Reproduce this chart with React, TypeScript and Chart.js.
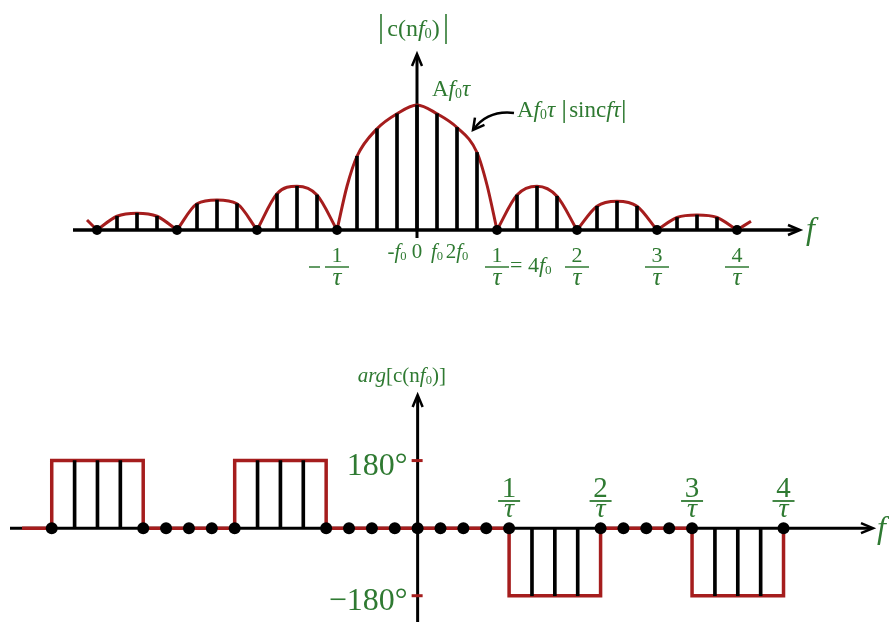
import React, { useEffect, useRef } from 'react';
import { Chart, registerables } from 'chart.js';

Chart.register(...registerables);

// ---------------- DATA ----------------
// harmonic index n (frequency = n * f0), with 1/tau = 4 f0
const harmonicIndex = [-16, -15, -14, -13, -12, -11, -10, -9, -8, -7, -6, -5, -4, -3, -2, -1, 0, 1, 2, 3, 4, 5, 6, 7, 8, 9, 10, 11, 12, 13, 14, 15, 16];
// |c(n f0)| normalised to A f0 tau = 1
const magnitude = [0, 0.11, 0.135, 0.11, 0, 0.21, 0.24, 0.21, 0, 0.29, 0.35, 0.28, 0, 0.59, 0.81, 0.93, 1.0, 0.93, 0.82, 0.62, 0, 0.28, 0.35, 0.27, 0, 0.19, 0.23, 0.19, 0, 0.1, 0.12, 0.1, 0];
// extra envelope readings between harmonics (main lobe flanks) and the tails
const envelopeExtraFreq = [-16.5, -3.5, 3.5, 16.7];
const envelopeExtraMag = [0.08, 0.35, 0.36, 0.07];
// arg[c(n f0)] in degrees
const phaseDeg = [0, 180, 180, 180, 0, 0, 0, 0, 0, 180, 180, 180, 0, 0, 0, 0, 0, 0, 0, 0, 0, -180, -180, -180, 0, 0, 0, 0, 0, -180, -180, -180, 0];
// continuous phase of the envelope: breakpoints and level after each breakpoint
const phaseEdgeFreq = [-17.3, -16, -12, -8, -4, 4, 8, 12, 16];
const phaseEdgeDeg = [0, 180, 0, 180, 0, -180, 0, -180, 0];
// tick labels
const topFracAt = [-4, 4, 8, 12, 16];
const topFracNum = ['1', '1', '2', '3', '4'];
const harmonicLabelAt = [-1, 0, 1, 2];
const harmonicLabels = ['-f0', '0', 'f0', '2f0'];
const bottomFracAt = [4, 8, 12, 16];
const bottomFracNum = ['1', '2', '3', '4'];
const phaseTickDeg = [180, -180];
const phaseTickLabels = ['180°', '−180°'];

// ---------------- STYLE ----------------
const GREEN = '#2f7a32';
const RED = '#a51d1d';
const FONT = '"Liberation Serif", "Times New Roman", serif';
const BOTTOM_TOP = 320;

type Run = { t: string; it?: boolean; sub?: boolean };

function rich(str: string): Run[] {
  const runs: Run[] = [];
  let prev = '';
  for (const ch of str) {
    const it = ch === 'f' || ch === 'τ';
    const sub = ch === '0' && prev === 'f';
    const last = runs[runs.length - 1];
    if (last && !!last.it === it && !!last.sub === sub) last.t += ch;
    else runs.push({ t: ch, it, sub });
    prev = ch;
  }
  return runs;
}

function fontFor(size: number, it?: boolean) {
  return `${it ? 'italic ' : ''}${size}px ${FONT}`;
}

function drawRuns(ctx: CanvasRenderingContext2D, runs: Run[], x: number, y: number, size: number, align: 'left' | 'center' | 'right', color: string) {
  const sizes = runs.map((r) => (r.sub ? size * 0.6 : size));
  const widths = runs.map((r, i) => {
    ctx.font = fontFor(sizes[i], r.it);
    return ctx.measureText(r.t).width;
  });
  const total = widths.reduce((a, b) => a + b, 0);
  let cx = align === 'left' ? x : align === 'center' ? x - total / 2 : x - total;
  ctx.save();
  ctx.textAlign = 'left';
  ctx.textBaseline = 'alphabetic';
  ctx.fillStyle = color;
  runs.forEach((r, i) => {
    ctx.font = fontFor(sizes[i], r.it);
    ctx.fillText(r.t, cx, y + (r.sub ? size * 0.1 : 0));
    cx += widths[i];
  });
  ctx.restore();
  return total;
}

function line(ctx: CanvasRenderingContext2D, x1: number, y1: number, x2: number, y2: number) {
  ctx.beginPath();
  ctx.moveTo(x1, y1);
  ctx.lineTo(x2, y2);
  ctx.stroke();
}

function arrowHead(ctx: CanvasRenderingContext2D, tx: number, ty: number, dx: number, dy: number, len = 12, half = 5) {
  const px = -dy, py = dx;
  ctx.beginPath();
  ctx.moveTo(tx - dx * len + px * half, ty - dy * len + py * half);
  ctx.lineTo(tx, ty);
  ctx.lineTo(tx - dx * len - px * half, ty - dy * len - py * half);
  ctx.stroke();
}

function drawFrac(ctx: CanvasRenderingContext2D, cx: number, barY: number, num: string, numSize: number, denSize: number, barW: number, numGap: number, denGap: number, lw: number) {
  ctx.save();
  ctx.strokeStyle = GREEN;
  ctx.lineWidth = lw;
  line(ctx, cx - barW / 2, barY, cx + barW / 2, barY);
  ctx.restore();
  drawRuns(ctx, [{ t: num }], cx, barY - numGap, numSize, 'center', GREEN);
  drawRuns(ctx, [{ t: 'τ', it: true }], cx, barY + denGap, denSize, 'center', GREEN);
}

// ---------------- SERIES BUILDERS ----------------
function envelopeSeries() {
  const readings = harmonicIndex
    .map((n, i) => ({ x: n, y: magnitude[i] }))
    .concat(envelopeExtraFreq.map((f, i) => ({ x: f, y: envelopeExtraMag[i] })))
    .sort((a, b) => a.x - b.x);
  const pts: { x: number; y: number | null }[] = [];
  readings.forEach((p, i) => {
    pts.push({ x: p.x, y: p.y });
    if (p.y === 0 && i > 0 && i < readings.length - 1) {
      pts.push({ x: p.x, y: null });
      pts.push({ x: p.x, y: p.y });
    }
  });
  return pts;
}

// ---------------- PLUGINS ----------------
const topDecor = {
  id: 'topDecor',
  beforeDatasetsDraw(chart: any) {
    const { ctx, scales } = chart;
    const x = scales.x, y = scales.y;
    const x0 = x.getPixelForValue(0), y0 = y.getPixelForValue(0);
    ctx.save();
    ctx.strokeStyle = '#000';
    ctx.lineJoin = 'miter';
    ctx.lineWidth = 3.5;
    line(ctx, 73, y0, 798, y0);
    ctx.lineWidth = 2.5;
    arrowHead(ctx, 800, y0, 1, 0, 12, 5);
    ctx.lineWidth = 3;
    line(ctx, x0, y0 + 8, x0, 56);
    ctx.lineWidth = 2.5;
    arrowHead(ctx, x0, 54, 0, -1, 12, 5);
    ctx.restore();
  },
  afterDraw(chart: any) {
    const { ctx, scales } = chart;
    const x = scales.x, y = scales.y;
    const x0 = x.getPixelForValue(0);
    // title |c(n f0)|
    drawRuns(ctx, rich('c(nf0)'), x0 - 3.5, 36, 24, 'center', GREEN);
    ctx.save();
    ctx.strokeStyle = GREEN;
    ctx.lineWidth = 1.6;
    line(ctx, x0 - 36, 14, x0 - 36, 44);
    line(ctx, x0 + 29, 14, x0 + 29, 44);
    ctx.restore();
    // peak label
    drawRuns(ctx, rich('Af0τ'), x0 + 15, 96, 23, 'left', GREEN);
    // envelope annotation
    const ax = 517;
    const w1 = drawRuns(ctx, rich('Af0τ'), ax, 117, 23, 'left', GREEN);
    const b1 = ax + w1 + 9;
    const w2 = drawRuns(ctx, rich('sincfτ'), b1 + 5, 117, 23, 'left', GREEN);
    const b2 = b1 + 5 + w2 + 3;
    ctx.save();
    ctx.strokeStyle = GREEN;
    ctx.lineWidth = 1.5;
    line(ctx, b1, 100, b1, 123);
    line(ctx, b2, 100, b2, 123);
    ctx.strokeStyle = '#000';
    ctx.lineWidth = 2.5;
    ctx.beginPath();
    ctx.moveTo(514, 113);
    ctx.quadraticCurveTo(488, 110, 474, 129);
    ctx.stroke();
    const dx = 474 - 484, dy = 129 - 116;
    const l = Math.hypot(dx, dy);
    arrowHead(ctx, 473, 130, dx / l, dy / l, 11, 6);
    ctx.restore();
    // harmonic labels
    harmonicLabelAt.forEach((n, i) => {
      drawRuns(ctx, rich(harmonicLabels[i]), x.getPixelForValue(n), 258, 21, 'center', GREEN);
    });
    // fraction ticks
    topFracAt.forEach((n, i) => {
      const cx = x.getPixelForValue(n);
      drawFrac(ctx, cx, 267, topFracNum[i], 22, 25, 24, 5, 18, 1.5);
      if (n < 0) {
        ctx.save();
        ctx.strokeStyle = GREEN;
        ctx.lineWidth = 1.5;
        line(ctx, cx - 28, 267, cx - 17, 267);
        ctx.restore();
      }
      if (n === 4) drawRuns(ctx, rich('= 4f0'), cx + 13, 272, 22, 'left', GREEN);
    });
    drawRuns(ctx, [{ t: 'f', it: true }], 806, y.getPixelForValue(0) + 9, 32, 'left', GREEN);
  },
};

const bottomDecor = {
  id: 'bottomDecor',
  beforeDatasetsDraw(chart: any) {
    const { ctx, scales } = chart;
    const x = scales.x, y = scales.y;
    const x0 = x.getPixelForValue(0), y0 = y.getPixelForValue(0);
    ctx.save();
    ctx.strokeStyle = '#000';
    ctx.lineJoin = 'miter';
    ctx.lineWidth = 3;
    line(ctx, 10, y0, 871, y0);
    ctx.lineWidth = 2.5;
    arrowHead(ctx, 873, y0, 1, 0, 12, 5);
    ctx.lineWidth = 3;
    line(ctx, x0, 622 - BOTTOM_TOP, x0, 77);
    ctx.lineWidth = 2.5;
    arrowHead(ctx, x0, 75, 0, -1, 12, 5);
    ctx.restore();
  },
  afterDatasetsDraw(chart: any) {
    const { ctx, scales } = chart;
    const x = scales.x, y = scales.y;
    const x0 = x.getPixelForValue(0);
    ctx.save();
    ctx.strokeStyle = RED;
    ctx.lineWidth = 3;
    phaseTickDeg.forEach((d) => {
      const py = y.getPixelForValue(d);
      line(ctx, x0 - 6, py, x0 + 5, py);
    });
    ctx.restore();
  },
  afterDraw(chart: any) {
    const { ctx, scales } = chart;
    const x = scales.x, y = scales.y;
    const x0 = x.getPixelForValue(0);
    drawRuns(ctx, [{ t: 'arg', it: true }, ...rich('[c(nf0)]')], x0 - 60, 382 - BOTTOM_TOP, 21, 'left', GREEN);
    phaseTickDeg.forEach((d, i) => {
      drawRuns(ctx, [{ t: phaseTickLabels[i] }], x0 - 10, y.getPixelForValue(d) + 14, 32, 'right', GREEN);
    });
    bottomFracAt.forEach((n, i) => {
      drawFrac(ctx, x.getPixelForValue(n), 501 - BOTTOM_TOP, bottomFracNum[i], 29, 28, 22, 4, 16, 1.8);
    });
    drawRuns(ctx, [{ t: 'f', it: true }], 877, y.getPixelForValue(0) + 10, 32, 'left', GREEN);
  },
};

// ---------------- APP ----------------
export default function App() {
  const topRef = useRef<HTMLCanvasElement>(null);
  const botRef = useRef<HTMLCanvasElement>(null);

  useEffect(() => {
    const stemTop = harmonicIndex.map((n, i) => ({ x: n, y: magnitude[i] })).filter((p) => p.y !== 0);
    const zeroTop = harmonicIndex.map((n, i) => ({ x: n, y: magnitude[i] })).filter((p) => p.y === 0);

    const top = new Chart(topRef.current as HTMLCanvasElement, {
      type: 'line',
      data: {
        datasets: [
          { type: 'scatter', data: zeroTop, pointRadius: 5, pointBackgroundColor: '#000', pointBorderColor: '#000', pointBorderWidth: 0, order: 0 } as any,
          { type: 'bar', data: stemTop, backgroundColor: '#000', borderWidth: 0, barThickness: 3, order: 1 } as any,
          {
            type: 'line',
            data: envelopeSeries(),
            borderColor: RED,
            borderWidth: 3,
            pointRadius: 0,
            cubicInterpolationMode: 'monotone',
            spanGaps: false,
            fill: false,
            order: 2,
          } as any,
        ],
      },
      options: {
        animation: false,
        responsive: false,
        events: [],
        layout: { padding: { left: 17, right: 72, top: 55, bottom: 40 } },
        plugins: { legend: { display: false }, tooltip: { enabled: false } },
        scales: {
          x: { type: 'linear', min: -20, max: 20, display: false, offset: false },
          y: { type: 'linear', min: -0.4, max: 1.4, display: false },
        },
      } as any,
      plugins: [topDecor],
    });

    const stemBot = harmonicIndex.map((n, i) => ({ x: n, y: phaseDeg[i] })).filter((p) => p.y !== 0);
    const dotBot = harmonicIndex.map((n, i) => ({ x: n, y: phaseDeg[i] })).filter((p) => p.y === 0);
    const phaseLine = phaseEdgeFreq.map((f, i) => ({ x: f, y: phaseEdgeDeg[i] }));

    const bottom = new Chart(botRef.current as HTMLCanvasElement, {
      type: 'line',
      data: {
        datasets: [
          { type: 'scatter', data: dotBot, pointRadius: 6, pointBackgroundColor: '#000', pointBorderColor: '#000', pointBorderWidth: 0, order: 0 } as any,
          { type: 'bar', data: stemBot, backgroundColor: '#000', borderWidth: 0, barThickness: 3, order: 1 } as any,
          {
            type: 'line',
            data: phaseLine,
            borderColor: RED,
            borderWidth: 3.5,
            borderJoinStyle: 'miter',
            pointRadius: 0,
            stepped: true,
            fill: false,
            order: 2,
          } as any,
        ],
      },
      options: {
        animation: false,
        responsive: false,
        events: [],
        layout: { padding: { left: 4, right: 14, top: 73, bottom: 0 } },
        plugins: { legend: { display: false }, tooltip: { enabled: false } },
        scales: {
          x: { type: 'linear', min: -18, max: 20, display: false, offset: false },
          y: { type: 'linear', min: -250, max: 360, display: false },
        },
      } as any,
      plugins: [bottomDecor],
    });

    return () => {
      top.destroy();
      bottom.destroy();
    };
  }, []);

  return (
    <div style={{ position: 'absolute', left: 0, top: 0, width: 889, height: 628, background: '#fff', overflow: 'hidden' }}>
      <canvas ref={topRef} width={889} height={320} style={{ position: 'absolute', left: 0, top: 0 }} />
      <canvas ref={botRef} width={889} height={308} style={{ position: 'absolute', left: 0, top: BOTTOM_TOP }} />
    </div>
  );
}
